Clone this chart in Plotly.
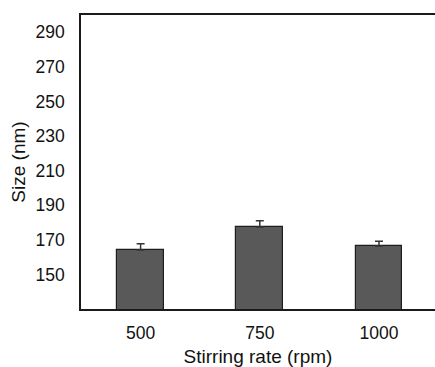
import plotly.graph_objects as go

categories = ["500", "750", "1000"]
sizes = [164.1, 177.4, 166.4]
errors = [3.6, 3.7, 2.8]
y_ticks = [150, 170, 190, 210, 230, 250, 270, 290]

fig = go.Figure()
fig.add_trace(go.Bar(
    x=list(range(len(categories))),
    y=sizes,
    width=0.394,
    marker=dict(color="#595959", line=dict(color="#1e1e1e", width=1.2)),
    error_y=dict(type="data", array=errors, symmetric=False, arrayminus=[0]*len(errors),
                 color="#333333", thickness=1.5, width=4),
    showlegend=False,
))

font_family = "Liberation Sans, Arial, sans-serif"
fig.update_layout(
    width=435, height=367,
    margin=dict(l=81, r=0, t=15, b=58),
    paper_bgcolor="white", plot_bgcolor="white",
    font=dict(family=font_family, size=17.5, color="#111111"),
    bargap=0,
)
fig.update_xaxes(
    range=[-0.5, 2.47],
    tickmode="array", tickvals=list(range(len(categories))), ticktext=categories,
    showline=True, linecolor="#1a1a1a", linewidth=1.5, mirror=True,
    showgrid=False, zeroline=False, ticks="", ticklabelstandoff=7,
    title=dict(text="Stirring rate (rpm)", standoff=8, font=dict(size=19)),
    tickfont=dict(size=17.5),
)
fig.update_yaxes(
    range=[130, 300],
    tickmode="array", tickvals=y_ticks,
    showline=True, linecolor="#1a1a1a", linewidth=1.5,
    showgrid=False, zeroline=False, ticks="", ticklabelstandoff=11,
    title=dict(text="Size (nm)", standoff=5, font=dict(size=19)),
    tickfont=dict(size=17.5),
)

fig.write_html("out.html")
